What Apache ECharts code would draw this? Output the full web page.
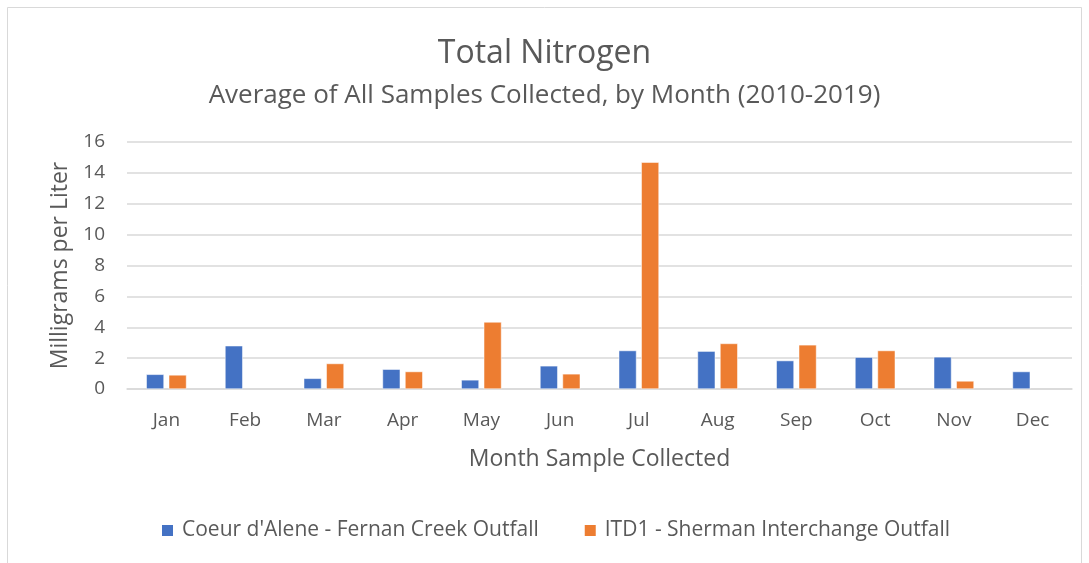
<!DOCTYPE html>
<html>
<head>
<meta charset="utf-8">
<script src="https://cdn.jsdelivr.net/npm/echarts@6/dist/echarts.min.js"></script>
<style>html,body{margin:0;padding:0;background:#fff}#c{width:1089px;height:563px}</style>
</head>
<body>
<div id="c"></div>
<script>
const months = ['Jan','Feb','Mar','Apr','May','Jun','Jul','Aug','Sep','Oct','Nov','Dec'];
const coeurDAlene = [0.95, 2.80, 0.69, 1.28, 0.59, 1.50, 2.49, 2.45, 1.84, 2.06, 2.08, 1.13];
const itd1 = [0.91, null, 1.65, 1.13, 4.34, 0.98, 14.69, 2.95, 2.86, 2.49, 0.52, null];
const seriesNames = ["Coeur d'Alene - Fernan Creek Outfall", "ITD1 - Sherman Interchange Outfall"];
const yTicks = [0, 2, 4, 6, 8, 10, 12, 14, 16];

const font = '"Open Sans", "Liberation Sans", sans-serif';
const chart = echarts.init(document.getElementById('c'));
chart.setOption({
  animation: false,
  backgroundColor: '#fff',
  textStyle: { fontFamily: font },
  graphic: [{
    type: 'rect', shape: { x: 7.5, y: 7.5, width: 1074, height: 570 },
    style: { fill: 'none', stroke: '#d9d9d9', lineWidth: 1 }, silent: true
  }],
  title: {
    text: 'Total Nitrogen',
    subtext: 'Average of All Samples Collected, by Month (2010-2019)',
    left: 'center', top: 33, itemGap: 13,
    textStyle: { fontFamily: font, fontSize: 32, fontWeight: 'normal', color: '#595959' },
    subtextStyle: { fontFamily: font, fontSize: 26, color: '#595959' }
  },
  legend: {
    top: 515, left: 155, itemWidth: 13, itemHeight: 13, itemGap: 44,
    icon: 'rect',
    textStyle: { fontFamily: font, fontSize: 21, color: '#595959', padding: [0, 0, 0, 3] },
    data: seriesNames
  },
  grid: { left: 127, right: 17, top: 142, bottom: 174 },
  xAxis: {
    type: 'category', data: months,
    name: 'Month Sample Collected', nameLocation: 'middle', nameGap: 59,
    nameTextStyle: { fontFamily: font, fontSize: 23, color: '#595959' },
    axisLine: { lineStyle: { color: '#d9d9d9', width: 1.5 } },
    axisTick: { show: false },
    axisLabel: { fontFamily: font, fontSize: 19, color: '#595959', margin: 22 }
  },
  yAxis: {
    type: 'value', min: 0, max: 16, interval: 2,
    name: 'Milligrams per Liter', nameLocation: 'middle', nameGap: 55, nameRotate: 90,
    nameTextStyle: { fontFamily: font, fontSize: 23, color: '#595959' },
    axisLine: { show: false }, axisTick: { show: false },
    axisLabel: { fontFamily: font, fontSize: 19, color: '#595959', margin: 22,
      formatter: v => yTicks.includes(v) ? String(v) : '' },
    splitLine: { lineStyle: { color: '#d9d9d9', width: 1.5 } }
  },
  series: [
    { name: seriesNames[0], type: 'bar', data: coeurDAlene, barWidth: '22.5%', barGap: '27%',
      itemStyle: { color: '#4472C4', borderColor: '#fff', borderWidth: 0.5 } },
    { name: seriesNames[1], type: 'bar', data: itd1, barWidth: '22.5%', barGap: '27%',
      itemStyle: { color: '#ED7D31', borderColor: '#fff', borderWidth: 0.5 } }
  ]
});
</script>
</body>
</html>
